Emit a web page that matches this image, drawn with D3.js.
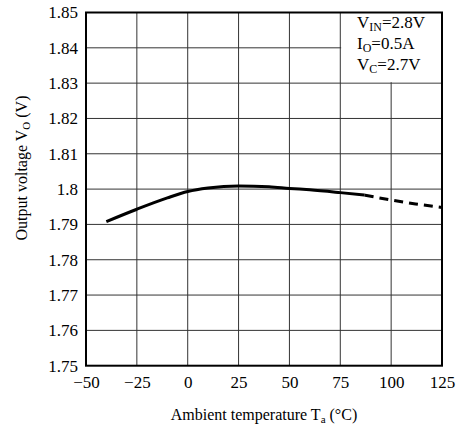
<!DOCTYPE html>
<html>
<head>
<meta charset="utf-8">
<script src="https://cdn.jsdelivr.net/npm/d3@7"></script>
<style>
  body { margin: 0; background: #fff; }
  svg { display: block; font-family: "Liberation Serif", "Times New Roman", serif; }
</style>
</head>
<body>
<svg id="chart" width="461" height="425"></svg>
<script>
// measured curve, Ta (°C) vs Vo (V)
const tempSolid = [-40, -25, -10, 0, 10, 25, 40, 50, 60, 75, 87]
const voltSolid = [1.7908, 1.7943, 1.7975, 1.7993, 1.8003, 1.8009, 1.8007, 1.8002, 1.7998, 1.7990, 1.7983]
// guaranteed-by-design part (dashed)
const tempDashed = [87, 100, 112, 125]
const voltDashed = [1.7983, 1.7969, 1.7958, 1.7948]

const xTicks = [-50, -25, 0, 25, 50, 75, 100, 125]
const yTicks = [1.75, 1.76, 1.77, 1.78, 1.79, 1.8, 1.81, 1.82, 1.83, 1.84, 1.85]
const conditions = [["V", "IN", "=2.8V"], ["I", "O", "=0.5A"], ["V", "C", "=2.7V"]]

const plotLeft = 86, plotRight = 442, plotTop = 12.5, plotBottom = 365.7

var svg = d3.select("#chart")

var x = d3.scaleLinear().domain([-50, 125]).range([plotLeft, plotRight])
var y = d3.scaleLinear().domain([1.75, 1.85]).range([plotBottom, plotTop])

// grid
var grid = svg.append("g").attr("stroke", "#333").attr("stroke-width", 1)
grid.selectAll(".vx").data(xTicks.slice(1, -1)).enter().append("line")
    .attr("x1", d => x(d)).attr("x2", d => x(d))
    .attr("y1", plotTop).attr("y2", plotBottom)
grid.selectAll(".hy").data(yTicks.slice(1, -1)).enter().append("line")
    .attr("x1", plotLeft).attr("x2", plotRight)
    .attr("y1", d => y(d)).attr("y2", d => y(d))

// condition box hides the grid behind it
svg.append("rect")
    .attr("x", x(100) - 50).attr("y", plotTop)
    .attr("width", plotRight - x(100) + 50).attr("height", y(1.83) - plotTop - 1)
    .attr("fill", "#fff")

var legend = svg.append("g").attr("font-size", 17).attr("fill", "#000")
conditions.forEach(function (c, i) {
    var t = legend.append("text").attr("x", 357).attr("y", 28 + i * 21)
    t.append("tspan").text(c[0])
    t.append("tspan").attr("font-size", 12).attr("dy", 3).text(c[1])
    t.append("tspan").attr("dy", -3).text(c[2])
})

// curve
var line = d3.line()
    .x(d => x(d[0]))
    .y(d => y(d[1]))
    .curve(d3.curveMonotoneX)

svg.append("path")
    .datum(d3.zip(tempSolid, voltSolid))
    .attr("d", line)
    .attr("fill", "none").attr("stroke", "#000").attr("stroke-width", 3)

svg.append("path")
    .datum(d3.zip(tempDashed, voltDashed))
    .attr("d", line)
    .attr("fill", "none").attr("stroke", "#000").attr("stroke-width", 3)
    .attr("stroke-dasharray", "9,6")

// frame
svg.append("rect")
    .attr("x", plotLeft).attr("y", plotTop)
    .attr("width", plotRight - plotLeft).attr("height", plotBottom - plotTop)
    .attr("fill", "none").attr("stroke", "#000").attr("stroke-width", 2)

// axes (labels only, frame drawn above)
var xAxis = svg.append("g")
    .attr("transform", "translate(0," + plotBottom + ")")
    .call(d3.axisBottom(x).tickValues(xTicks).tickSize(0).tickPadding(10)
        .tickFormat(d => d < 0 ? "\u2212" + Math.abs(d) : d))
var yAxis = svg.append("g")
    .attr("transform", "translate(" + plotLeft + ",0)")
    .call(d3.axisLeft(y).tickValues(yTicks).tickSize(0).tickPadding(8)
        .tickFormat(d => d3.format("")(+d.toFixed(2))))

;[xAxis, yAxis].forEach(function (a) {
    a.select(".domain").remove()
    a.selectAll("text").attr("font-size", 17).attr("fill", "#000")
        .attr("font-family", "Liberation Serif, serif")
})

// axis titles
var xt = svg.append("text")
    .attr("x", (plotLeft + plotRight) / 2).attr("y", 420)
    .attr("text-anchor", "middle").attr("font-size", 16)
xt.append("tspan").text("Ambient temperature T")
xt.append("tspan").attr("font-size", 11).attr("dy", 3).text("a")
xt.append("tspan").attr("dy", -3).text(" (\u00b0C)")

var yt = svg.append("text")
    .attr("transform", "translate(27,168) rotate(-90)")
    .attr("text-anchor", "middle").attr("font-size", 16)
yt.append("tspan").text("Output voltage V")
yt.append("tspan").attr("font-size", 11).attr("dy", 3).text("O")
yt.append("tspan").attr("dy", -3).text(" (V)")
</script>
</body>
</html>
